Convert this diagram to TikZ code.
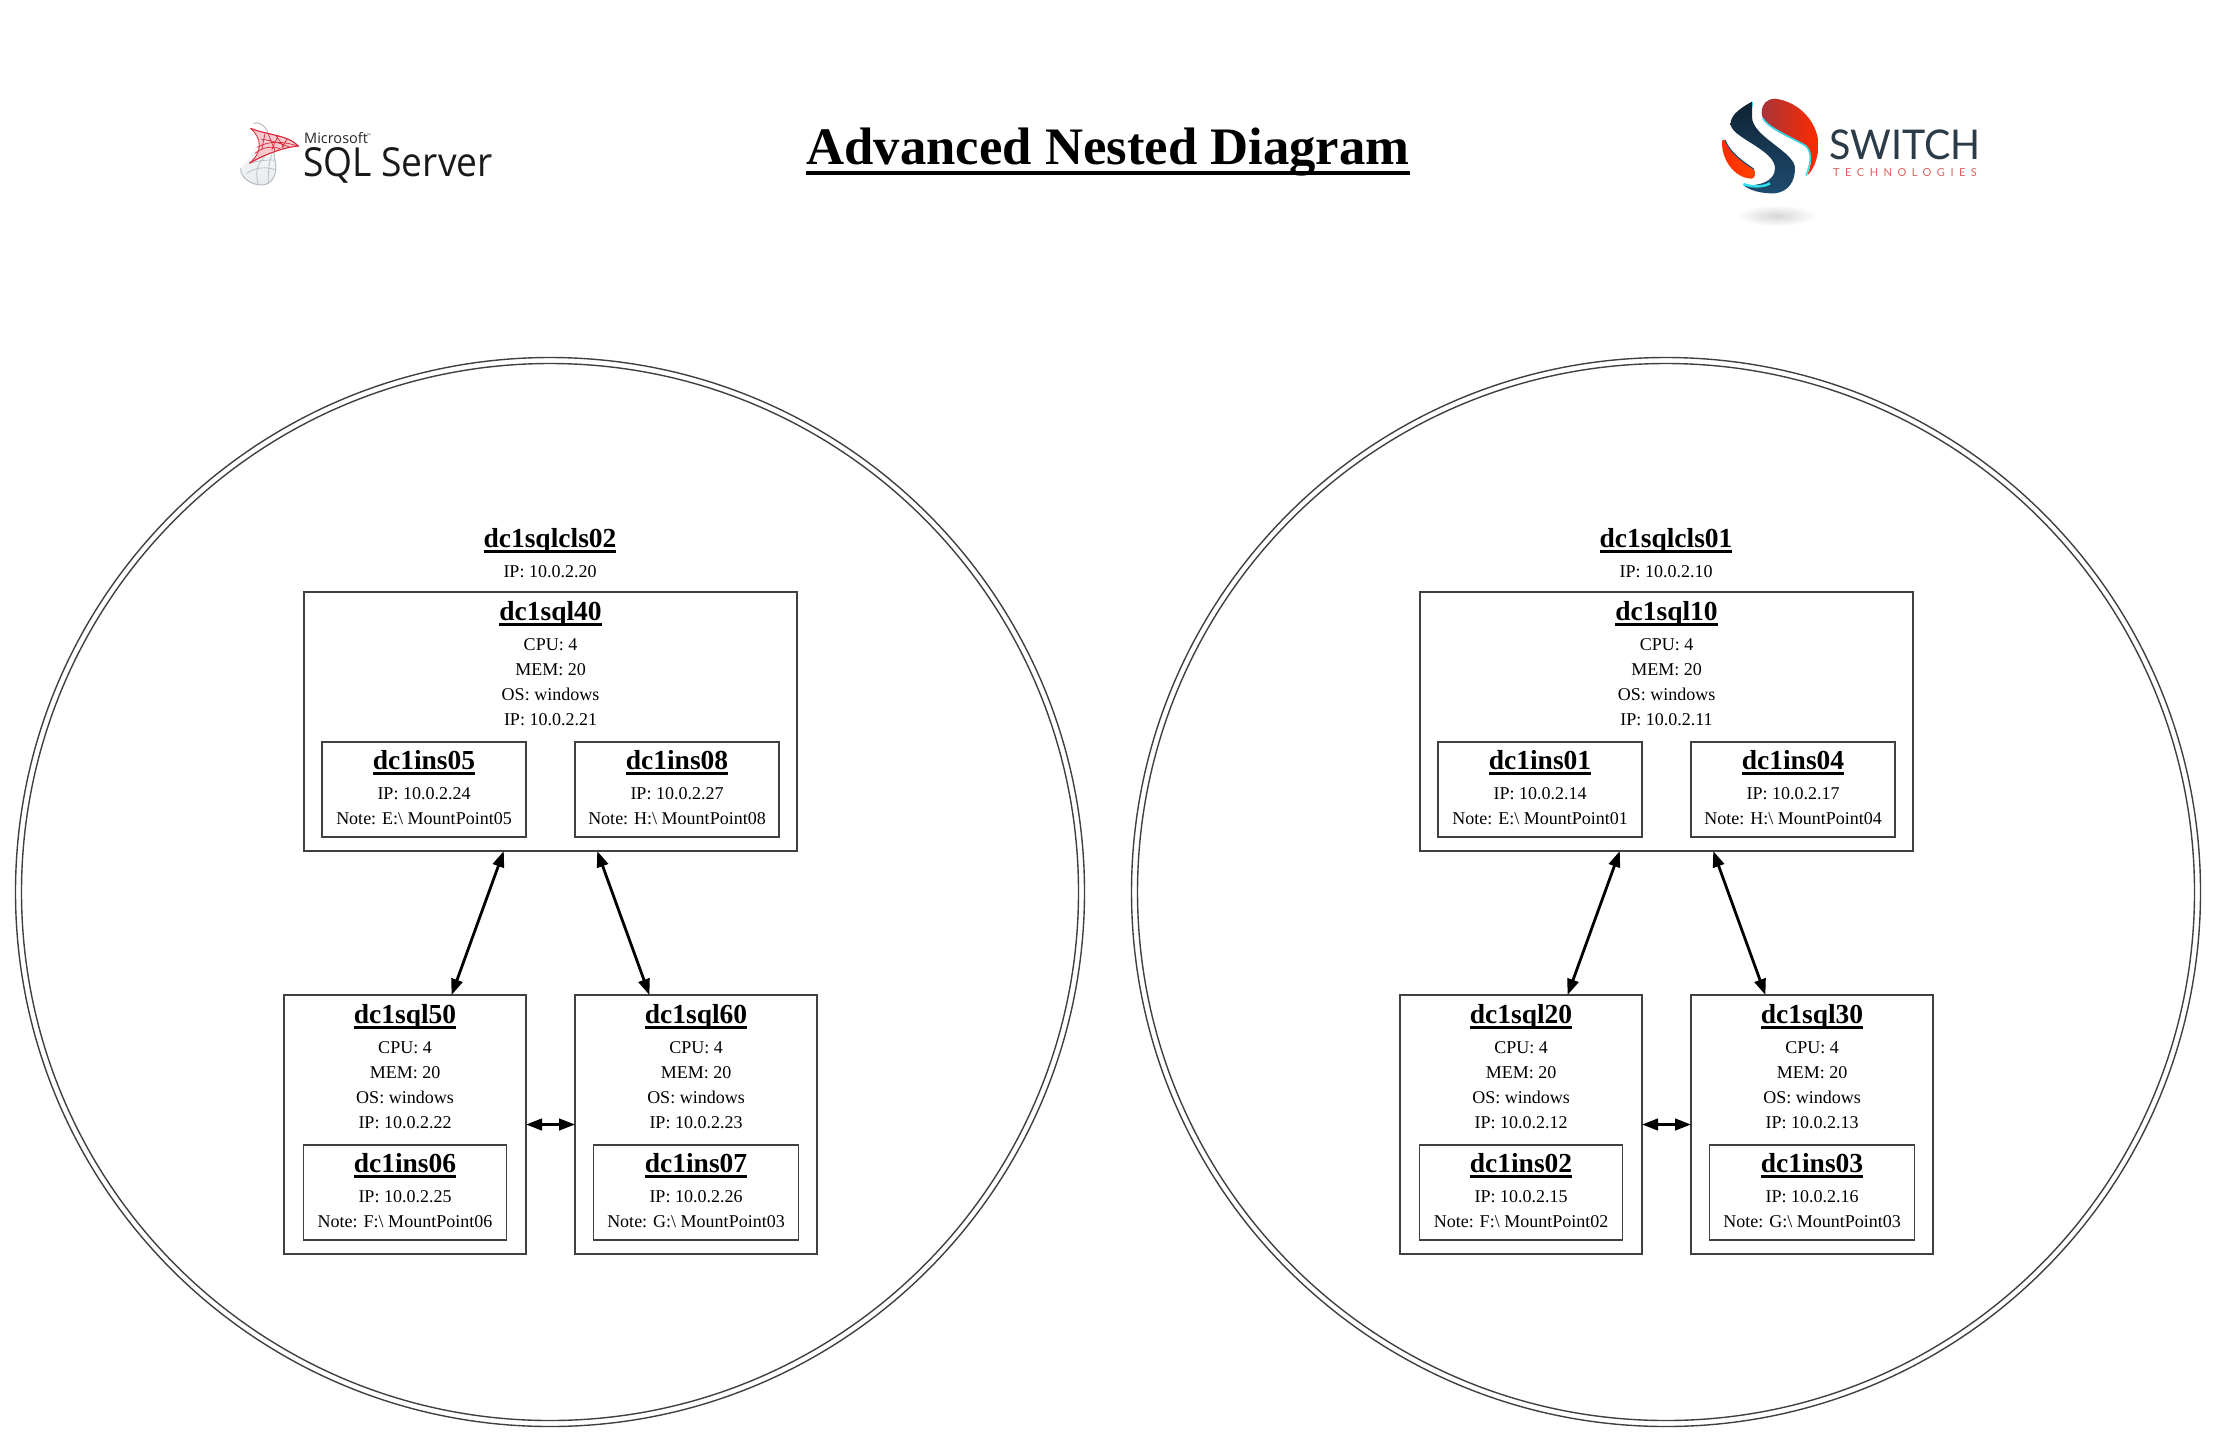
\documentclass[tikz,border=0pt]{standalone}
\usepackage{fontspec}
\usetikzlibrary{arrows.meta}
\setmainfont{Liberation Serif}
\newfontfamily\opensans{Open Sans}
\newfontfamily\latofont{Lato}
\newfontfamily\latospaced[LetterSpace=50]{Lato}
\definecolor{ink}{HTML}{404040}
\definecolor{navyA}{HTML}{0E2233}
\definecolor{navyB}{HTML}{1F4C70}
\definecolor{redA}{HTML}{A8343A}
\definecolor{redB}{HTML}{FF2A00}
\definecolor{swtext}{HTML}{2B3B48}
\definecolor{swred}{HTML}{DD5F5F}
\definecolor{swcyan}{HTML}{2FE0F0}
\definecolor{sqlred}{HTML}{D8283A}
\definecolor{sqlgray}{HTML}{B4BCC4}
\newcommand\ulx[1]{\setbox0=\hbox{#1}\rlap{\rule[-0.2em]{\wd0}{0.075em}}\box0}
\tikzset{
  boxs/.style={draw=ink,line width=1.4pt,rectangle,inner sep=0pt,outer sep=0pt},
  ring/.style={draw=ink,line width=1.4pt,circle,inner sep=0pt,outer sep=0pt},
  hdtxt/.style={anchor=base,inner sep=0pt,font=\fontsize{27.5}{27.5}\selectfont\bfseries},
  ln/.style={anchor=base,inner sep=0pt,font=\fontsize{18}{18}\selectfont},
  titletxt/.style={anchor=base,inner sep=0pt,font=\fontsize{52.7}{52.7}\selectfont\bfseries},
  link/.style={{Triangle[length=16pt,width=11.5pt]}-{Triangle[length=16pt,width=11.5pt]},line width=2.8pt,draw=black,shorten <=0pt,shorten >=0pt},
  logotxt/.style={anchor=base west,inner sep=0pt},
}
\newcommand\vmnode[6]{% name, box cx, top, width, text cx, IP
  \node[boxs,minimum width=#4pt,minimum height=259pt] (#1) at (#2,#3+129.5) {};
  \node[hdtxt] (#1-h) at (#5,#3+28) {\ulx{#1}};
  \node[ln] (#1-cpu) at (#5,#3+58) {CPU: 4};
  \node[ln] (#1-mem) at (#5,#3+83) {MEM: 20};
  \node[ln] (#1-os) at (#5,#3+108) {OS: windows};
  \node[ln] (#1-ip) at (#5,#3+133) {IP: #6};
}
\newcommand\insnodeb[7]{% name, cx, top, width, IP, drive, mount number
  \node[boxs,minimum width=#4pt,minimum height=95pt] (#1) at (#2,#3+47.5) {};
  \node[hdtxt] (#1-h) at (#2,#3+27) {\ulx{#1}};
  \node[ln] (#1-ip) at (#2,#3+57) {IP: #5};
  \node[ln] (#1-note) at (#2,#3+82) {Note: #6:\textbackslash\ MountPoint#7};
}
\begin{document}
\begin{tikzpicture}[x=1pt,y=-1pt]
\useasboundingbox (0,0) rectangle (2216,1441);

\node[titletxt] (title) at (1108,164) {\ulx{Advanced Nested Diagram}};

% ---------- SQL Server logo
\begin{scope}[shift={(200,60)},x=0.3333pt,y=-0.3333pt]
  \shade[top color=white,bottom color=sqlgray!30,draw=none] (160,190) .. controls (195,180) and (215,225) .. (225,300) .. controls (235,345) and (215,375) .. (185,375) .. controls (150,375) and (120,350) .. (122,325) .. controls (140,305) and (190,260) .. (160,190) -- cycle;
  \draw[sqlgray,line width=1pt] (160,190) .. controls (195,180) and (215,225) .. (225,300) .. controls (235,345) and (215,375) .. (185,375) .. controls (150,375) and (120,350) .. (122,325);
  \draw[sqlgray,line width=.7pt] (140,340) .. controls (170,320) and (200,320) .. (228,330) (150,310) .. controls (180,300) and (205,300) .. (225,300) (175,375) .. controls (165,340) and (170,310) .. (195,290) (205,370) .. controls (205,340) and (205,310) .. (215,285);
  \fill[sqlred!25] (152,205) .. controls (200,225) and (265,225) .. (295,258) .. controls (250,262) and (190,285) .. (148,310) .. controls (190,275) and (185,235) .. (152,205) -- cycle;
  \draw[sqlred,line width=1.1pt] (152,205) .. controls (200,225) and (265,225) .. (295,258) .. controls (250,262) and (190,285) .. (148,310);
  \draw[sqlred,line width=.8pt] (152,205) .. controls (185,235) and (190,275) .. (148,310);
  \draw[sqlred,line width=.7pt] (172,262) .. controls (210,240) and (250,245) .. (295,258) (184,238) .. controls (215,240) and (255,255) .. (270,262) (165,280) .. controls (190,260) and (215,258) .. (240,266) (205,222) -- (225,272) (235,226) -- (215,270) (195,220) -- (185,270) (262,236) -- (245,264) (228,226) -- (252,262);
\end{scope}
\node[logotxt,font=\opensans\fontsize{14.5}{14.5}\selectfont,text=black!85] (ms) at (304,143) {Microsoft};
\node[logotxt,font=\opensans\fontsize{5}{5}\selectfont,text=black!70] (mstm) at (367,137) {™};
\node[logotxt,font=\opensans\fontsize{40}{40}\selectfont,text=black!90,transform shape,xscale=0.93] (sqlsrv) at (303,176) {SQL Server};
\node[logotxt,font=\opensans\fontsize{5}{5}\selectfont,text=black!70] (srvreg) at (487,158) {®};

% ---------- Switch logo
\begin{scope}[shift={(1680,70)},x=0.3333pt,y=-0.3333pt]
  \shade[inner color=black!16,outer color=white,draw=none] (290,437) ellipse [x radius=120,y radius=32];
  \shade[left color=redA,right color=redB,draw=none] (245,128) .. controls (245,100) and (265,85) .. (285,86) .. controls (360,95) and (415,160) .. (415,225) .. controls (415,265) and (400,300) .. (382,316) .. controls (395,280) and (400,250) .. (375,228) .. controls (340,205) and (245,175) .. (245,128) -- cycle;
  \draw[swcyan,line width=1.6pt] (248,145) .. controls (265,175) and (340,205) .. (378,228) .. controls (398,248) and (392,285) .. (378,316);
  \shade[top color=navyA,bottom color=navyB,draw=none] (216,95) .. controls (170,120) and (150,140) .. (152,165) .. controls (160,205) and (285,240) .. (285,295) .. controls (285,335) and (235,350) .. (190,345) .. controls (205,360) and (245,372) .. (285,370) .. controls (325,365) and (345,335) .. (345,295) .. controls (345,245) and (215,200) .. (216,140) -- cycle;
  \draw[swcyan,line width=1.6pt] (218,95) -- (218,110);
  \draw[swcyan,line width=2.4pt] (190,342) .. controls (215,352) and (250,352) .. (270,340);
  \shade[left color=redB,right color=redB!70!orange,draw=none] (127,210) .. controls (120,260) and (160,325) .. (215,326) .. controls (225,325) and (228,310) .. (222,298) .. controls (190,275) and (150,250) .. (135,210) -- cycle;
  \draw[navyB,line width=1.1pt] (135,210) .. controls (150,250) and (190,275) .. (222,298);
\end{scope}
\node[logotxt,font=\latofont\fontsize{41}{41}\selectfont,text=swtext,transform shape,xscale=0.96] (switch) at (1829,159) {SWITCH};
\node[logotxt,font=\latospaced\fontsize{11}{11}\selectfont,text=swred] (tech) at (1833,176) {TECHNOLOGIES};

% ---------- left cluster
\node[ring,minimum size=1069pt] (ring2a) at (550,892) {};
\node[ring,minimum size=1057pt] (ring2b) at (550,892) {};
\node[hdtxt] (cls2) at (550,547) {\ulx{dc1sqlcls02}};
\node[ln] (cls2ip) at (550,577) {IP: 10.0.2.20};
\vmnode{dc1sql40}{550.5}{592}{493}{550.5}{10.0.2.21}
\insnodeb{dc1ins05}{424}{742}{204}{10.0.2.24}{E}{05}
\insnodeb{dc1ins08}{677}{742}{204}{10.0.2.27}{H}{08}
\vmnode{dc1sql50}{405}{995}{242}{405}{10.0.2.22}
\vmnode{dc1sql60}{696}{995}{242}{696}{10.0.2.23}
\insnodeb{dc1ins06}{405}{1145}{203}{10.0.2.25}{F}{06}
\insnodeb{dc1ins07}{696}{1145}{205}{10.0.2.26}{G}{03}
\draw[link] (dc1sql40) -- (dc1sql50);
\draw[link] (dc1sql40) -- (dc1sql60);
\draw[link] (dc1sql50) -- (dc1sql60);

% ---------- right cluster
\node[ring,minimum size=1069pt] (ring1a) at (1666,892) {};
\node[ring,minimum size=1057pt] (ring1b) at (1666,892) {};
\node[hdtxt] (cls1) at (1666,547) {\ulx{dc1sqlcls01}};
\node[ln] (cls1ip) at (1666,577) {IP: 10.0.2.10};
\vmnode{dc1sql10}{1666.5}{592}{493}{1666.5}{10.0.2.11}
\insnodeb{dc1ins01}{1540}{742}{204}{10.0.2.14}{E}{01}
\insnodeb{dc1ins04}{1793}{742}{204}{10.0.2.17}{H}{04}
\vmnode{dc1sql20}{1521}{995}{242}{1521}{10.0.2.12}
\vmnode{dc1sql30}{1812}{995}{242}{1812}{10.0.2.13}
\insnodeb{dc1ins02}{1521}{1145}{203}{10.0.2.15}{F}{02}
\insnodeb{dc1ins03}{1812}{1145}{205}{10.0.2.16}{G}{03}
\draw[link] (dc1sql10) -- (dc1sql20);
\draw[link] (dc1sql10) -- (dc1sql30);
\draw[link] (dc1sql20) -- (dc1sql30);
\end{tikzpicture}
\end{document}
